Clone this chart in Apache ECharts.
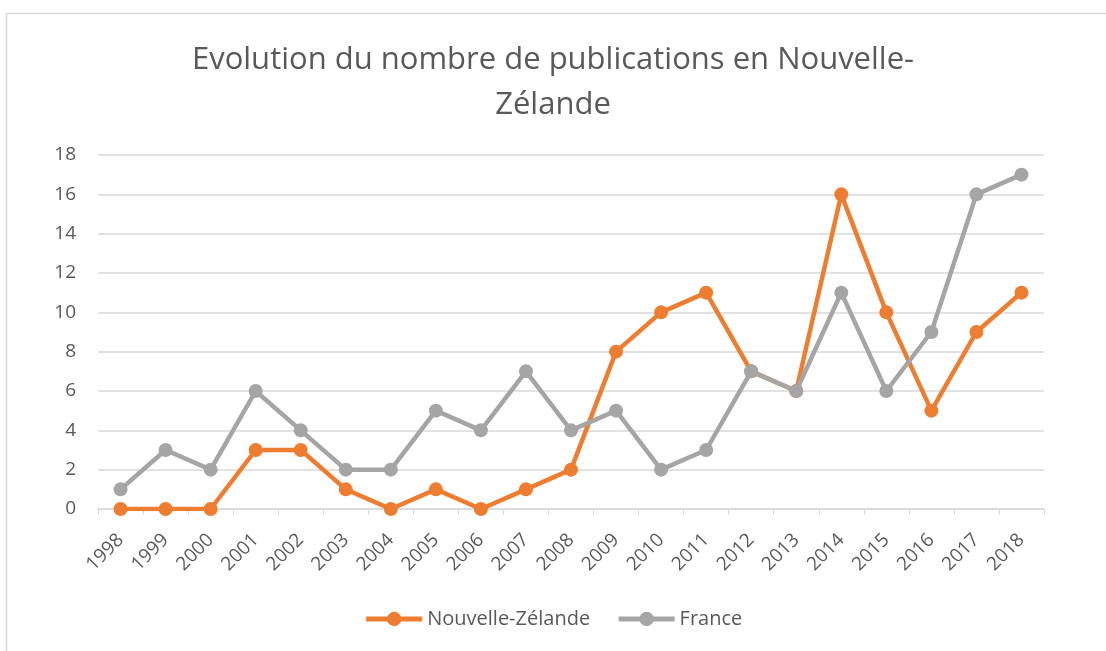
<!DOCTYPE html>
<html>
<head>
<meta charset="utf-8">
<script src="https://cdn.jsdelivr.net/npm/echarts@6/dist/echarts.min.js"></script>
<style>
  html, body { margin: 0; padding: 0; background: #fff; }
  #chart { width: 1106px; height: 651px; }
</style>
</head>
<body>
<div id="chart"></div>
<script>
const years = ['1998', '1999', '2000', '2001', '2002', '2003', '2004', '2005', '2006', '2007', '2008',
  '2009', '2010', '2011', '2012', '2013', '2014', '2015', '2016', '2017', '2018']
const nouvelleZelande = [0, 0, 0, 3, 3, 1, 0, 1, 0, 1, 2, 8, 10, 11, 7, 6, 16, 10, 5, 9, 11]
const france = [1, 3, 2, 6, 4, 2, 2, 5, 4, 7, 4, 5, 2, 3, 7, 6, 11, 6, 9, 16, 17]

const textColor = '#595959'
const font = '"Open Sans", "Noto Sans", sans-serif'

const chart = echarts.init(document.getElementById('chart'))

function lineSeries(name, data, color) {
  return {
    name: name,
    type: 'line',
    data: data,
    symbol: 'circle',
    symbolSize: 14,
    lineStyle: { color: color, width: 4.5 },
    itemStyle: { color: color },
    emphasis: { disabled: true }
  }
}

chart.setOption({
  animation: false,
  backgroundColor: '#fff',
  graphic: [
    {
      type: 'rect',
      left: 4,
      top: 11,
      shape: { width: 1120, height: 700 },
      style: { fill: 'none', stroke: '#D9D9D9', lineWidth: 1.5 }
    }
  ],
  title: {
    text: 'Evolution du nombre de publications en Nouvelle-\nZélande',
    left: 'center',
    top: 33,
    textStyle: {
      color: textColor,
      fontFamily: font,
      fontWeight: 'normal',
      fontSize: 31,
      lineHeight: 45
    }
  },
  legend: {
    bottom: 17,
    left: 'center',
    itemWidth: 56,
    itemHeight: 18,
    itemGap: 26,
    lineStyle: { width: 5 },
    textStyle: { color: textColor, fontFamily: font, fontSize: 20 },
    data: ['Nouvelle-Zélande', 'France']
  },
  grid: {
    left: 98,
    right: 62,
    top: 155,
    bottom: 142
  },
  xAxis: {
    type: 'category',
    data: years,
    boundaryGap: true,
    axisLine: { lineStyle: { color: '#D9D9D9', width: 1.5 } },
    axisTick: { show: true, length: 6, lineStyle: { color: '#D9D9D9' } },
    axisLabel: {
      color: textColor,
      fontFamily: font,
      fontSize: 19,
      rotate: 45,
      interval: 0,
      margin: 28
    }
  },
  yAxis: {
    type: 'value',
    min: 0,
    max: 18,
    interval: 2,
    axisLine: { show: false },
    axisTick: { show: false },
    splitLine: { lineStyle: { color: '#D9D9D9', width: 1.5 } },
    axisLabel: {
      color: textColor,
      fontFamily: font,
      fontSize: 19,
      margin: 22
    }
  },
  series: [
    lineSeries('Nouvelle-Zélande', nouvelleZelande, '#ED7D31'),
    lineSeries('France', france, '#A5A5A5')
  ]
})
</script>
</body>
</html>
